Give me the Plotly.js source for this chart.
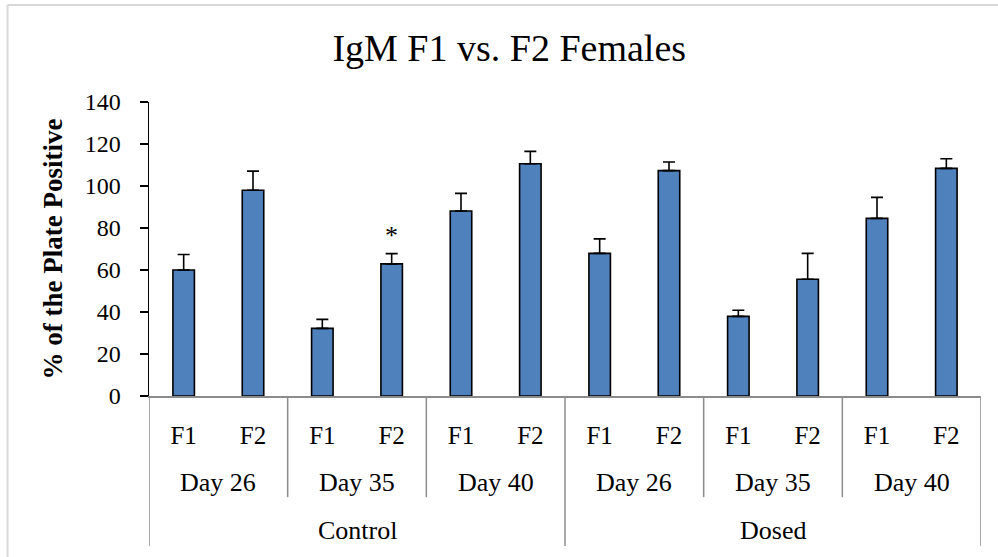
<!DOCTYPE html>
<html>
<head>
<meta charset="utf-8">
<script src="https://cdn.plot.ly/plotly-3.0.1.min.js"></script>
<style>html,body{margin:0;padding:0;background:#fff;} #chart{width:998px;height:557px;}</style>
</head>
<body>
<div id="chart"></div>
<script>
// ---- data ----
const groups = ["Control","Control","Control","Control","Control","Control","Dosed","Dosed","Dosed","Dosed","Dosed","Dosed"];
const days = ["Day 26","Day 26","Day 35","Day 35","Day 40","Day 40","Day 26","Day 26","Day 35","Day 35","Day 40","Day 40"];
const generations = ["F1","F2","F1","F2","F1","F2","F1","F2","F1","F2","F1","F2"];
const values = [60, 98, 32.2, 62.9, 88.1, 110.6, 67.9, 107.3, 37.9, 55.6, 84.6, 108.4];
const errors = [7.4, 9.1, 4.3, 4.9, 8.4, 5.9, 6.9, 4.1, 2.9, 12.3, 10.0, 4.6];
const significant = ["", "", "", "*", "", "", "", "", "", "", "", ""];
const yTicks = [0, 20, 40, 60, 80, 100, 120, 140];

const FONT = "Liberation Serif, Times New Roman, serif";
const idx = values.map((_, i) => i);

const trace = {
  type: "bar",
  x: idx,
  y: values,
  marker: {color: "#4F81BD", line: {color: "#000000", width: 1.6}},
  error_y: {type: "data", symmetric: false, array: errors, arrayminus: errors.map(() => 0),
            color: "#000000", thickness: 1.6, width: 6},
  hoverinfo: "skip"
};

function spans(labels, parents) {
  const out = [];
  let start = 0;
  for (let i = 1; i <= labels.length; i++) {
    if (i === labels.length || labels[i] !== labels[start] || (parents && parents[i] !== parents[start])) {
      out.push({label: labels[start], start: start, end: i - 1});
      start = i;
    }
  }
  return out;
}
const daySpans = spans(days, groups);
const groupSpans = spans(groups);

const annotations = [];
const shapes = [];
const grey = "#8c8c8c";

daySpans.forEach(s => {
  annotations.push({x: (s.start + s.end) / 2, y: -0.293, xref: "x", yref: "paper", text: s.label,
    showarrow: false, font: {family: FONT, size: 26, color: "#000"}, yanchor: "middle"});
});
groupSpans.forEach(s => {
  annotations.push({x: (s.start + s.end) / 2, y: -0.456, xref: "x", yref: "paper", text: s.label,
    showarrow: false, font: {family: FONT, size: 26, color: "#000"}, yanchor: "middle"});
});
const groupBounds = new Set();
groupSpans.forEach(s => { groupBounds.add(s.start - 0.5); groupBounds.add(s.end + 0.5); });
const dayBounds = new Set();
daySpans.forEach(s => { dayBounds.add(s.start - 0.5); dayBounds.add(s.end + 0.5); });
dayBounds.forEach(b => {
  const deep = groupBounds.has(b);
  shapes.push({type: "line", xref: "x", yref: "paper", x0: b, x1: b, y0: 0, y1: deep ? -0.51 : -0.344,
    line: {color: grey, width: 1.5}});
});
significant.forEach((s, i) => {
  if (s) annotations.push({x: i, y: values[i] + errors[i], xref: "x", yref: "y", text: s, showarrow: false,
    yanchor: "bottom", yshift: 2, font: {family: FONT, size: 26, color: "#000"}});
});
// outer frame (top and left edges visible)
shapes.push({type: "line", xref: "paper", yref: "paper", x0: -0.170, x1: 1.05, y0: 1.330, y1: 1.330,
  line: {color: "#d9d9d9", width: 2}});
shapes.push({type: "line", xref: "paper", yref: "paper", x0: -0.170, x1: -0.170, y0: 1.330, y1: -0.56,
  line: {color: "#d9d9d9", width: 2}});

const layout = {
  width: 998, height: 557,
  margin: {l: 149, r: 17, t: 102, b: 161},
  paper_bgcolor: "#ffffff", plot_bgcolor: "#ffffff",
  showlegend: false,
  bargap: 0.69,
  title: {text: "IgM F1 vs. F2 Females", font: {family: FONT, size: 38, color: "#000"},
          x: 0.433, xref: "paper", xanchor: "center", y: 0.915, yanchor: "middle"},
  xaxis: {
    range: [-0.5, 11.5], tickmode: "array", tickvals: idx, ticktext: generations,
    showline: true, linecolor: grey, linewidth: 1.5, ticks: "", showgrid: false, zeroline: false,
    tickfont: {family: FONT, size: 25, color: "#000"}, ticklabelstandoff: 16, fixedrange: true
  },
  yaxis: {
    range: [0, 140], tickmode: "array", tickvals: yTicks, showgrid: false, zeroline: false,
    showline: true, linecolor: "#000", linewidth: 1.5, ticks: "outside", ticklen: 8, tickwidth: 1.5, tickcolor: "#000",
    tickfont: {family: FONT, size: 24, color: "#000"}, ticklabelstandoff: 14,
    title: {text: "<b>% of the Plate Positive</b>", font: {family: FONT, size: 27, color: "#000"}, standoff: 14}
  },
  annotations: annotations,
  shapes: shapes
};

Plotly.newPlot("chart", [trace], layout, {displayModeBar: false, staticPlot: true});
</script>
</body>
</html>
